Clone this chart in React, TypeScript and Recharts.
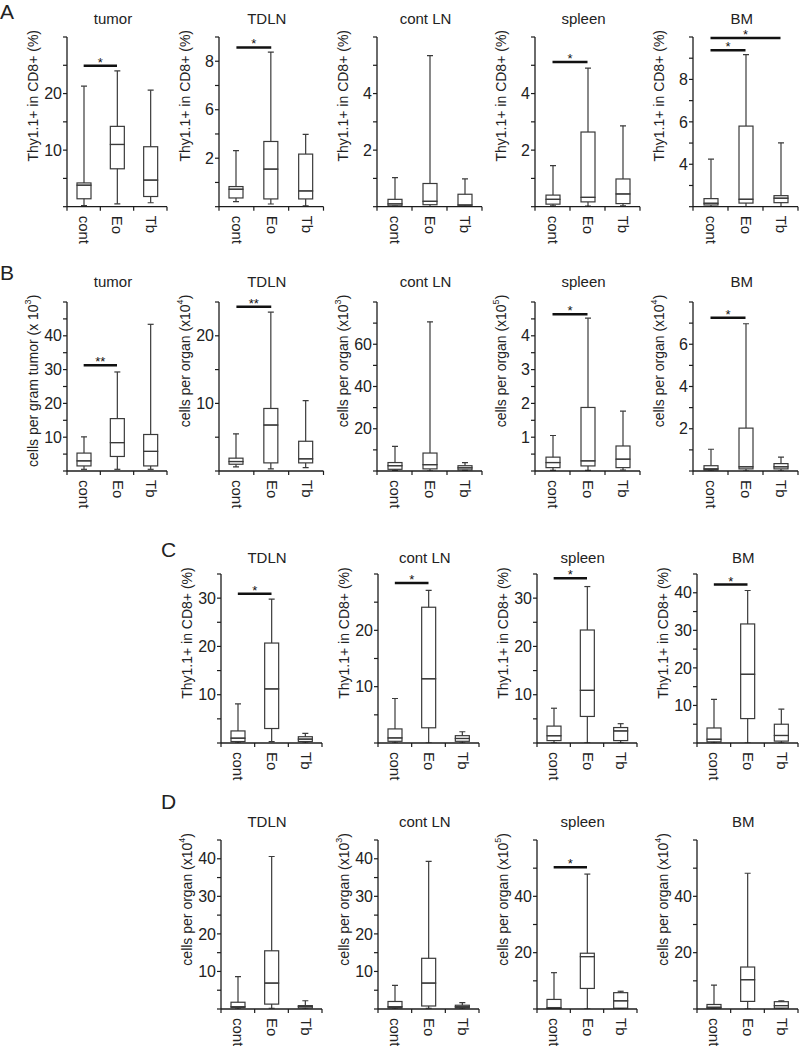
import React from 'react';
import { ComposedChart, Bar, XAxis, YAxis, ReferenceLine } from 'recharts';

// ---------- data ----------
const categories = ['cont', 'Eo', 'Tb'];

// box statistics per category: [whisker low, Q1, median, Q3, whisker high]
const aTumor = [[0.2, 1.4, 3.8, 4.2, 21.3], [0.5, 6.7, 11.0, 14.2, 24.0], [0.7, 1.8, 4.7, 10.6, 20.6]];
const aTdln = [[0.21, 0.36, 0.72, 0.83, 2.31], [0.11, 0.32, 1.55, 2.69, 6.38], [0.03, 0.32, 0.65, 2.17, 2.98]];
const aContLn = [[0.02, 0.03, 0.1, 0.26, 1.03], [0.0, 0.07, 0.19, 0.82, 5.34], [0.0, 0.05, 0.06, 0.44, 0.98]];
const aSpleen = [[0.03, 0.09, 0.26, 0.41, 1.45], [0.02, 0.17, 0.33, 2.64, 4.9], [0.03, 0.11, 0.45, 0.98, 2.86]];
const aBm = [[2.0, 2.08, 2.16, 2.38, 4.24], [2.0, 2.17, 2.35, 5.8, 9.17], [2.0, 2.19, 2.4, 2.52, 5.01]];

const bTumor = [[0.5, 1.5, 3.0, 5.3, 10.1], [0.5, 4.3, 8.4, 15.5, 29.3], [0.5, 1.5, 5.8, 10.8, 43.4]];
const bTdln = [[0.6, 1.0, 1.4, 1.9, 5.5], [0.3, 1.2, 6.8, 9.25, 23.5], [0.5, 1.2, 1.8, 4.4, 10.4]];
const bContLn = [[0.3, 0.8, 2.5, 4.0, 11.7], [0.0, 1.0, 3.0, 8.5, 70.6], [0.3, 0.5, 1.5, 2.5, 4.0]];
const bSpleen = [[0.02, 0.1, 0.25, 0.41, 1.05], [0.02, 0.15, 0.3, 1.88, 4.52], [0.03, 0.1, 0.35, 0.74, 1.77]];
const bBm = [[0.0, 0.05, 0.1, 0.25, 1.03], [0.0, 0.1, 0.2, 2.03, 6.97], [0.0, 0.1, 0.2, 0.35, 0.66]];

const cTdln = [[0.0, 0.3, 1.0, 2.5, 8.1], [0.3, 3.0, 11.2, 20.7, 29.8], [0.0, 0.3, 0.8, 1.3, 2.0]];
const cContLn = [[0.0, 0.3, 0.9, 2.5, 7.9], [0.0, 2.7, 11.4, 24.1, 27.1], [0.0, 0.3, 0.8, 1.3, 2.0]];
const cSpleen = [[0.0, 0.5, 1.5, 3.5, 7.2], [0.0, 5.5, 10.9, 23.4, 32.4], [0.0, 0.5, 2.5, 3.2, 4.0]];
const cBm = [[0.0, 0.3, 1.0, 4.0, 11.6], [0.0, 6.5, 18.3, 31.7, 40.6], [0.0, 0.5, 2.0, 5.0, 9.0]];

const dTdln = [[0.0, 0.4, 0.6, 1.8, 8.6], [0.2, 1.3, 6.9, 15.5, 40.6], [0.0, 0.3, 0.7, 0.9, 2.2]];
const dContLn = [[0.0, 0.3, 0.6, 2.0, 6.3], [0.2, 0.8, 6.9, 13.5, 39.3], [0.0, 0.3, 0.6, 1.0, 1.7]];
const dSpleen = [[0.0, 0.2, 0.5, 3.4, 12.9], [0.0, 7.3, 18.6, 19.8, 47.9], [0.0, 0.3, 2.9, 5.8, 6.3]];
const dBm = [[0.0, 0.3, 0.6, 1.6, 8.5], [0.0, 2.7, 10.4, 14.9, 48.2], [0.0, 0.3, 1.2, 2.6, 2.9]];

// y-axis ticks and their printed labels
const ticks0to30 = [0, 5, 10, 15, 20, 25, 30];
const labels0to30 = ['', '', '10', '', '20', '', ''];
const ticksTdlnA = [0, 1, 2, 3, 4, 5, 6, 7];
const labelsTdlnA = ['', '', '2', '', '6', '', '8', ''];
const ticks0to6 = [0, 1, 2, 3, 4, 5, 6];
const labels0to6 = ['', '', '2', '', '4', '', ''];
const ticks2to10 = [2, 3, 4, 5, 6, 7, 8, 9, 10];
const labels2to10 = ['', '', '4', '', '6', '', '8', '', ''];
const ticks0to50 = [0, 5, 10, 15, 20, 25, 30, 35, 40, 45, 50];
const labels0to50 = ['', '', '10', '', '20', '', '30', '', '40', '', ''];
const ticks0to25 = [0, 5, 10, 15, 20, 25];
const labels0to25 = ['', '', '10', '', '20', ''];
const ticks0to80 = [0, 10, 20, 30, 40, 50, 60, 70, 80];
const labels0to80 = ['', '', '20', '', '40', '', '60', '', ''];
const ticks0to5 = [0, 0.5, 1, 1.5, 2, 2.5, 3, 3.5, 4, 4.5, 5];
const labels0to5 = ['', '', '1', '', '2', '', '3', '', '4', '', ''];
const ticks0to8 = [0, 1, 2, 3, 4, 5, 6, 7, 8];
const labels0to8 = ['', '', '2', '', '4', '', '6', '', ''];
const ticks0to35 = [0, 5, 10, 15, 20, 25, 30, 35];
const labels0to35 = ['', '', '10', '', '20', '', '30', ''];
const ticks0to45 = [0, 5, 10, 15, 20, 25, 30, 35, 40, 45];
const labels0to45 = ['', '', '10', '', '20', '', '30', '', '40', ''];
const ticks0to60 = [0, 10, 20, 30, 40, 50, 60];
const labels0to60 = ['', '', '20', '', '40', '', ''];

// significance bars: [from, to, y value, text]
const sigATumor = [['cont', 'Eo', 24.9, '*']];
const sigATdln = [['cont', 'Eo', 6.57, '*']];
const sigASpleen = [['cont', 'Eo', 5.12, '*']];
const sigABm = [['cont', 'Eo', 9.37, '*'], ['cont', 'Tb', 9.95, '*']];
const sigBTumor = [['cont', 'Eo', 31.3, '**']];
const sigBTdln = [['cont', 'Eo', 24.3, '**']];
const sigBSpleen = [['cont', 'Eo', 4.64, '*']];
const sigBBm = [['cont', 'Eo', 7.25, '*']];
const sigCTdln = [['cont', 'Eo', 30.9, '*']];
const sigCContLn = [['cont', 'Eo', 28.4, '*']];
const sigCSpleen = [['cont', 'Eo', 34.1, '*']];
const sigCBm = [['cont', 'Eo', 42.2, '*']];
const sigDSpleen = [['cont', 'Eo', 50.3, '*']];

// axis labels: [main text, superscript, tail]
const labelThy = ['Thy1.1+ in CD8+ (%)', '', ''];
const labelGram3 = ['cells per gram tumor (x 10', '3', ')'];
const labelOrgan3 = ['cells per organ (x10', '3', ')'];
const labelOrgan4 = ['cells per organ (x10', '4', ')'];
const labelOrgan5 = ['cells per organ  (x10', '5', ')'];

// ---------- layout ----------
const AXIS = '#1c1c1c';
const BOX = '#3a3a3a';
const FONT = '"Liberation Sans", Arial, Helvetica, sans-serif';

type Panel = {
  left: number; top: number; w: number; h: number; titleOff: number;
  title: string; ylabel: string[];
  domain: number[]; ticks: number[]; tickLabels: string[];
  stats: number[][]; sig: any[];
};

const rowTop = [37, 301.7, 574.3, 840];
const rowH = [169.7, 169, 169, 169];
const rowTitleOff = [13.5, 14.5, 11.5, 13.5];
const colAB = [67, 218.5, 377, 535, 693.3];
const wAB = [100, 104.5, 105, 105, 105];
const colCD = [220.5, 378.3, 536.7, 696.7];
const wCD = [101, 101, 100, 101];

const mk = (row: number, left: number, w: number, title: string, ylabel: string[], domain: number[], ticks: number[], tickLabels: string[], stats: number[][], sig: any[]): Panel => ({
  left, top: rowTop[row], w, h: rowH[row], titleOff: rowTitleOff[row], title, ylabel, domain, ticks, tickLabels, stats, sig,
});

const panels: Panel[] = [
  mk(0, colAB[0], wAB[0], 'tumor', labelThy, [0, 30], ticks0to30, labels0to30, aTumor, sigATumor),
  mk(0, colAB[1], wAB[1], 'TDLN', labelThy, [0, 7], ticksTdlnA, labelsTdlnA, aTdln, sigATdln),
  mk(0, colAB[2], wAB[2], 'cont LN', labelThy, [0, 6], ticks0to6, labels0to6, aContLn, []),
  mk(0, colAB[3], wAB[3], 'spleen', labelThy, [0, 6], ticks0to6, labels0to6, aSpleen, sigASpleen),
  mk(0, colAB[4], wAB[4], 'BM', labelThy, [2, 10], ticks2to10, labels2to10, aBm, sigABm),

  mk(1, colAB[0], wAB[0], 'tumor', labelGram3, [0, 50], ticks0to50, labels0to50, bTumor, sigBTumor),
  mk(1, colAB[1], wAB[1], 'TDLN', labelOrgan4, [0, 25], ticks0to25, labels0to25, bTdln, sigBTdln),
  mk(1, colAB[2], wAB[2], 'cont LN', labelOrgan3, [0, 80], ticks0to80, labels0to80, bContLn, []),
  mk(1, colAB[3], wAB[3], 'spleen', labelOrgan5, [0, 5], ticks0to5, labels0to5, bSpleen, sigBSpleen),
  mk(1, colAB[4], wAB[4], 'BM', labelOrgan4, [0, 8], ticks0to8, labels0to8, bBm, sigBBm),

  mk(2, colCD[0], wCD[0], 'TDLN', labelThy, [0, 35], ticks0to35, labels0to35, cTdln, sigCTdln),
  mk(2, colCD[1], wCD[1], 'cont LN', labelThy, [0, 30], ticks0to30, labels0to30, cContLn, sigCContLn),
  mk(2, colCD[2], wCD[2], 'spleen', labelThy, [0, 35], ticks0to35, labels0to35, cSpleen, sigCSpleen),
  mk(2, colCD[3], wCD[3], 'BM', labelThy, [0, 45], ticks0to45, labels0to45, cBm, sigCBm),

  mk(3, colCD[0], wCD[0], 'TDLN', labelOrgan4, [0, 45], ticks0to45, labels0to45, dTdln, []),
  mk(3, colCD[1], wCD[1], 'cont LN', labelOrgan3, [0, 45], ticks0to45, labels0to45, dContLn, []),
  mk(3, colCD[2], wCD[2], 'spleen', labelOrgan5, [0, 60], ticks0to60, labels0to60, dSpleen, sigDSpleen),
  mk(3, colCD[3], wCD[3], 'BM', labelOrgan4, [0, 60], ticks0to60, labels0to60, dBm, []),
];

const letters = [
  { t: 'A', x: 0, y: 18.5 },
  { t: 'B', x: 0, y: 280 },
  { t: 'C', x: 161, y: 557 },
  { t: 'D', x: 161, y: 809 },
];

// ---------- shapes ----------
const EmptyShape = () => <g />;
const LowWhisker = (p: any) => {
  const cx = p.x + p.width / 2;
  const yb = p.y + p.height;
  return (
    <g>
      <line x1={cx} x2={cx} y1={p.y} y2={yb} stroke={BOX} strokeWidth={1.2} />
      <line x1={cx - 3} x2={cx + 3} y1={yb} y2={yb} stroke={BOX} strokeWidth={1.2} />
    </g>
  );
};
const HighWhisker = (p: any) => {
  const cx = p.x + p.width / 2;
  return (
    <g>
      <line x1={cx} x2={cx} y1={p.y} y2={p.y + p.height} stroke={BOX} strokeWidth={1.2} />
      <line x1={cx - 3} x2={cx + 3} y1={p.y} y2={p.y} stroke={BOX} strokeWidth={1.2} />
    </g>
  );
};
const BoxSeg = (p: any) => (
  <rect x={p.x} y={p.y} width={p.width} height={Math.max(0, p.height)} fill="none" stroke={BOX} strokeWidth={1.2} />
);

const XTick = (props: any) => {
  const { x, y, payload, index, bw } = props;
  return (
    <g>
      <line x1={x - bw / 2} x2={x - bw / 2} y1={y} y2={y + 4} stroke={AXIS} strokeWidth={1.2} />
      {index === categories.length - 1 && (
        <line x1={x + bw / 2} x2={x + bw / 2} y1={y} y2={y + 4} stroke={AXIS} strokeWidth={1.2} />
      )}
      <text
        transform={`translate(${x + 1},${y + 9}) rotate(90)`}
        textAnchor="start"
        dominantBaseline="central"
        fontSize={15}
        fill="#222"
      >
        {payload.value}
      </text>
    </g>
  );
};

const ML = 60, MT = 32, MR = 12, MB = 52, YAW = 44, XAH = 48;

function BoxPanel({ p }: { p: Panel }) {
  const width = ML + p.w + MR;
  const height = MT + p.h + MB;
  const bw = p.w / categories.length;
  const data = categories.map((c, i) => {
    const [lo, q1, md, q3, hi] = p.stats[i];
    return { cat: c, base: lo, lw: q1 - lo, b1: md - q1, b2: q3 - md, uw: hi - q3 };
  });
  return (
    <div style={{ position: 'absolute', left: p.left - ML, top: p.top - MT, width, height }}>
      <ComposedChart
        width={width}
        height={height}
        data={data}
        margin={{ top: MT, right: MR, bottom: MB - XAH, left: ML - YAW }}
      >
        <XAxis
          dataKey="cat"
          type="category"
          interval={0}
          height={XAH}
          tickLine={false}
          tickSize={0}
          tickMargin={0}
          axisLine={{ stroke: AXIS, strokeWidth: 1.3 }}
          tick={<XTick bw={bw} />}
        />
        <YAxis
          type="number"
          width={YAW}
          domain={p.domain}
          ticks={p.ticks}
          interval={0}
          allowDataOverflow
          tickFormatter={(v: number) => p.tickLabels[p.ticks.indexOf(v)] ?? ''}
          tickSize={4}
          tickMargin={1}
          tick={{ fontSize: 16, fill: '#222' }}
          tickLine={{ stroke: AXIS, strokeWidth: 1.2 }}
          axisLine={{ stroke: AXIS, strokeWidth: 1.3 }}
        />
        <Bar dataKey="base" stackId="s" barSize={14} shape={<EmptyShape />} isAnimationActive={false} />
        <Bar dataKey="lw" stackId="s" barSize={14} shape={<LowWhisker />} isAnimationActive={false} />
        <Bar dataKey="b1" stackId="s" barSize={14} shape={<BoxSeg />} isAnimationActive={false} />
        <Bar dataKey="b2" stackId="s" barSize={14} shape={<BoxSeg />} isAnimationActive={false} />
        <Bar dataKey="uw" stackId="s" barSize={14} shape={<HighWhisker />} isAnimationActive={false} />
        {p.sig.map((s: any, i: number) => (
          <ReferenceLine
            key={i}
            segment={[{ x: s[0], y: s[2] }, { x: s[1], y: s[2] }]}
            stroke="#111"
            strokeWidth={2.5}
            ifOverflow="visible"
            label={{ value: s[3], position: 'top', offset: -1, fontSize: 13, fill: '#111' }}
          />
        ))}
      </ComposedChart>
    </div>
  );
}

export default function App() {
  return (
    <div style={{ position: 'absolute', left: 0, top: 0, width: 800, height: 1046, background: '#fff', fontFamily: FONT }}>
      {panels.map((p, i) => <BoxPanel key={i} p={p} />)}
      <svg width={800} height={1046} style={{ position: 'absolute', left: 0, top: 0, pointerEvents: 'none' }} fontFamily={FONT}>
        {letters.map((l) => (
          <text key={l.t} x={l.x} y={l.y} fontSize={21} fill="#222">{l.t}</text>
        ))}
        {panels.map((p, i) => (
          <g key={i}>
            <text x={p.left + p.w / 2 - 4} y={p.top - p.titleOff} textAnchor="middle" fontSize={15} fill="#222">
              {p.title}
            </text>
            <text
              transform={`translate(${p.left - 34},${p.top - 7}) rotate(-90)`}
              textAnchor="end"
              dominantBaseline="central"
              fontSize={14}
              fill="#222"
            >
              {p.ylabel[0]}
              {p.ylabel[1] && <tspan dy={-5} fontSize={9}>{p.ylabel[1]}</tspan>}
              {p.ylabel[1] && <tspan dy={5}>{p.ylabel[2]}</tspan>}
            </text>
          </g>
        ))}
      </svg>
    </div>
  );
}
